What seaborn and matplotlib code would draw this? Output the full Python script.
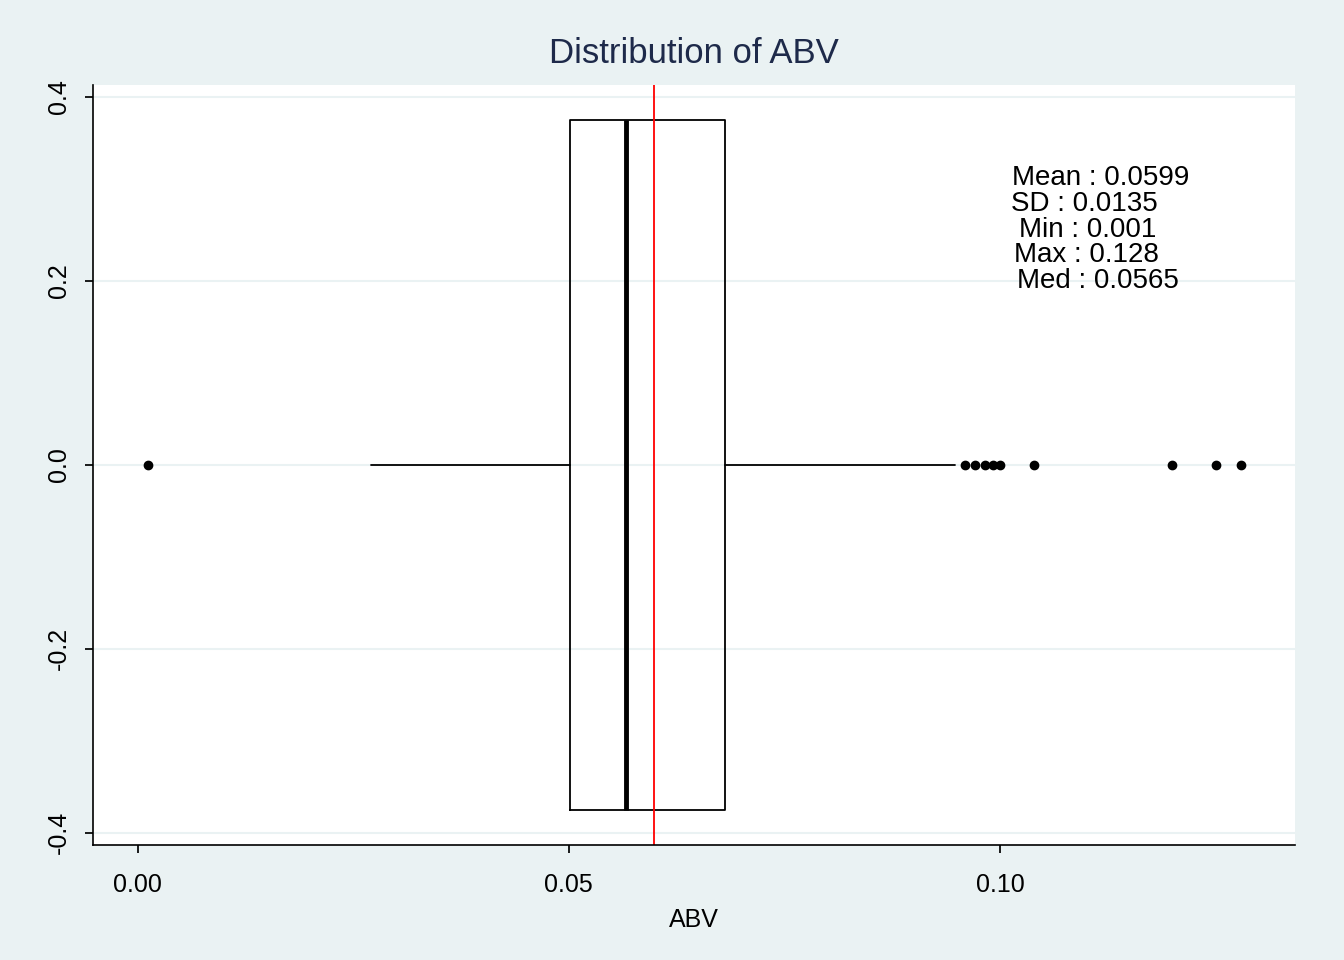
import matplotlib
matplotlib.use("Agg")
import matplotlib.pyplot as plt
import seaborn as sns

sns.set_theme(style="white")
plt.rcParams['font.family'] = ['Liberation Sans', 'DejaVu Sans']

q1, med, q3 = 0.0501, 0.0566, 0.0681
whislo, whishi = 0.0271, 0.0948
outliers = [0.0012, 0.0959, 0.0971, 0.0983, 0.0992, 0.1000, 0.1040, 0.1200, 0.1250, 0.1280]
mean_val = 0.0599
stats_lines = ["Mean : 0.0599", "SD : 0.0135", "Min : 0.001", "Max : 0.128", "Med : 0.0565"]

fig = plt.figure(figsize=(13.44, 9.6), dpi=100, facecolor="#EAF2F3")
ax = fig.add_axes([0.069, 0.12, 0.8945, 0.7915])
ax.set_facecolor("white")

ax.bxp([dict(q1=q1, med=med, q3=q3, whislo=whislo, whishi=whishi, fliers=outliers)],
       positions=[0], vert=False, widths=0.75, showcaps=False,
       boxprops=dict(color="black", lw=1.3),
       medianprops=dict(color="black", lw=3.5),
       whiskerprops=dict(color="black", lw=1.3),
       flierprops=dict(marker="o", markerfacecolor="black", markeredgecolor="black", markersize=6))
ax.axvline(mean_val, color="red", lw=1.3)

ax.set_xlim(-0.0052, 0.1342)
ax.set_ylim(-0.413, 0.413)
ax.set_xticks([0.0, 0.05, 0.10])
ax.set_xticklabels(["0.00", "0.05", "0.10"])
ax.set_yticks([-0.4, -0.2, 0.0, 0.2, 0.4])
ax.set_yticklabels(["-0.4", "-0.2", "0.0", "0.2", "0.4"], rotation=90, va="center")
ax.yaxis.grid(True, color="#EAF2F3", lw=1.5)
ax.set_axisbelow(True)
for s in ["top", "right"]:
    ax.spines[s].set_visible(False)
for s in ["left", "bottom"]:
    ax.spines[s].set_color("black")
    ax.spines[s].set_linewidth(1.2)
ax.tick_params(axis="both", which="both", length=6, color="black", labelsize=18, left=True, bottom=True, labelcolor="black")
ax.tick_params(axis="x", pad=14)
ax.tick_params(axis="y", pad=10)
ax.set_xlabel("ABV", fontsize=18, color="black", labelpad=8)
ax.set_ylabel("")
ax.set_title("Distribution of ABV", fontsize=25, color="#1E2A4A", pad=16)

ys = [0.312, 0.284, 0.255, 0.228, 0.200]
xs = [0.1117, 0.1098, 0.1102, 0.1100, 0.1113]
for t, x, y in zip(stats_lines, xs, ys):
    ax.text(x, y, t, fontsize=20, color="black", ha="center", va="center")

fig.savefig("out.png", dpi=100, facecolor=fig.get_facecolor())
